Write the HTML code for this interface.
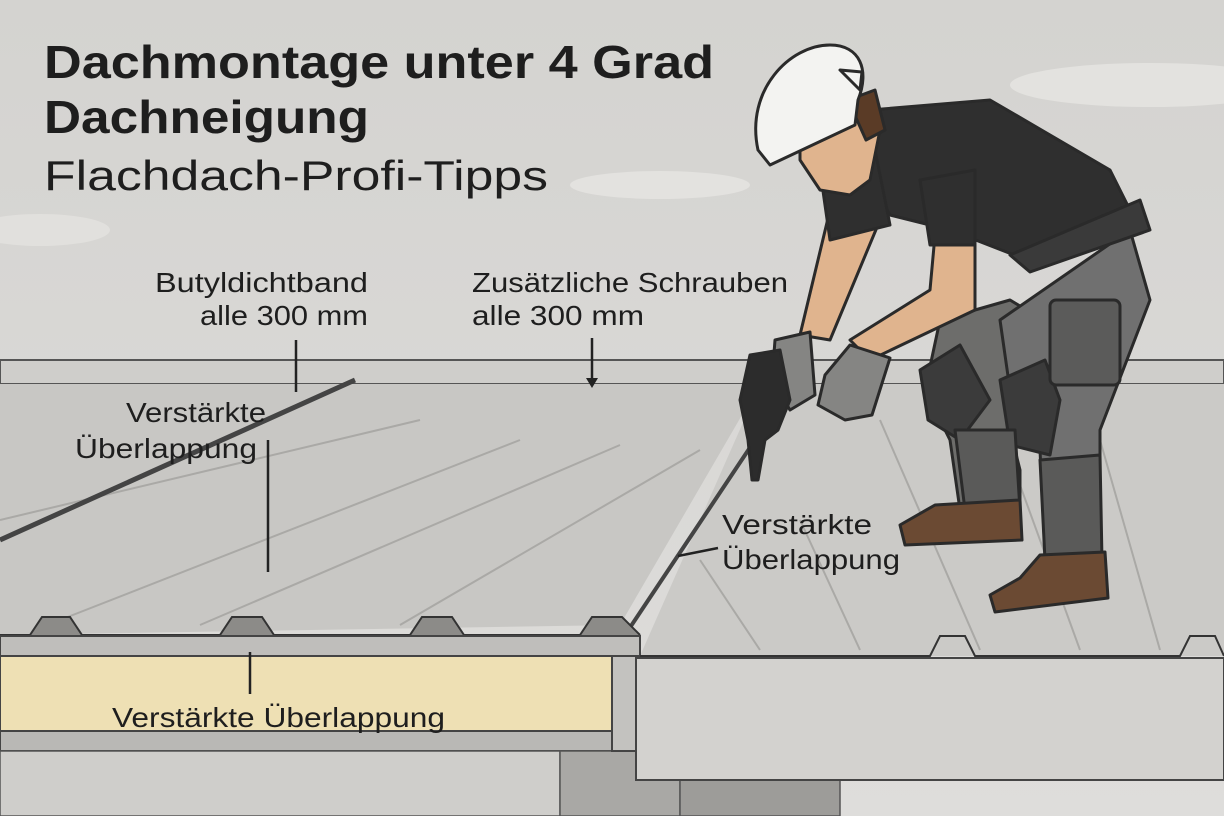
<!DOCTYPE html>
<html><head><meta charset="utf-8"><style>
html,body{margin:0;padding:0;width:1224px;height:816px;overflow:hidden;background:#d9d8d5}
svg{display:block}
text{font-family:"Liberation Sans",sans-serif;fill:#1e1e1e}
</style></head><body>
<svg width="1224" height="816" viewBox="0 0 1224 816" xmlns="http://www.w3.org/2000/svg">
<defs>
<linearGradient id="sky" x1="0" y1="0" x2="0" y2="1"><stop offset="0" stop-color="#d4d3d0"/><stop offset="1" stop-color="#dedddb"/></linearGradient>
</defs>
<rect width="1224" height="816" fill="url(#sky)"/>
<ellipse cx="1150" cy="85" rx="140" ry="22" fill="#e3e2df"/>
<ellipse cx="660" cy="185" rx="90" ry="14" fill="#e3e2df"/>
<ellipse cx="40" cy="230" rx="70" ry="16" fill="#e1e0dd"/>
<rect x="0" y="360" width="1224" height="24" fill="#cfcecb" stroke="#555" stroke-width="2"/>
<polygon points="0,384 760,384 620,625 0,635" fill="#c8c7c4"/>
<polygon points="760,384 1224,384 1224,656 640,656" fill="#cbcac7"/>
<g stroke="#aaa9a6" stroke-width="2">
<line x1="0" y1="520" x2="420" y2="420"/><line x1="60" y1="620" x2="520" y2="440"/>
<line x1="200" y1="625" x2="620" y2="445"/><line x1="400" y1="625" x2="700" y2="450"/>
<line x1="880" y1="420" x2="980" y2="650"/><line x1="1000" y1="430" x2="1080" y2="650"/>
<line x1="1100" y1="440" x2="1160" y2="650"/><line x1="700" y1="560" x2="760" y2="650"/>
<line x1="800" y1="520" x2="860" y2="650"/>
</g>
<line x1="0" y1="540" x2="355" y2="380" stroke="#444" stroke-width="5"/>
<line x1="625" y1="635" x2="755" y2="440" stroke="#444" stroke-width="4"/>
<path d="M0,635 L30,635 L42,617 L70,617 L82,635 L220,635 L232,617 L262,617 L274,635 L410,635 L422,617 L452,617 L464,635 L580,635 L592,617 L622,617 L640,635" fill="#8c8b88" stroke="#333" stroke-width="2"/>
<rect x="0" y="636" width="640" height="20" fill="#bfbebb" stroke="#444" stroke-width="2"/>
<path d="M640,656 L930,656 L940,636 L965,636 L975,656 L1180,656 L1190,636 L1215,636 L1224,656" fill="none" stroke="#333" stroke-width="2"/>
<line x1="640" y1="658" x2="1224" y2="658" stroke="#333" stroke-width="2"/>
<rect x="0" y="656" width="612" height="75" fill="#eee0b4" stroke="#444" stroke-width="2"/>
<rect x="0" y="731" width="640" height="20" fill="#b9b8b5" stroke="#444" stroke-width="2"/>
<rect x="0" y="751" width="560" height="65" fill="#cfcecb" stroke="#555" stroke-width="1.5"/>
<rect x="560" y="751" width="120" height="65" fill="#a9a8a5" stroke="#555" stroke-width="1.5"/>
<rect x="680" y="780" width="160" height="36" fill="#9d9c99" stroke="#555" stroke-width="1.5"/>
<rect x="636" y="658" width="588" height="122" fill="#d3d2cf" stroke="#444" stroke-width="2"/>
<rect x="612" y="656" width="24" height="95" fill="#c3c2bf" stroke="#444" stroke-width="2"/>
<g stroke="#222" stroke-width="2.5">
<line x1="296" y1="340" x2="296" y2="392"/>
<line x1="268" y1="440" x2="268" y2="572"/>
<line x1="592" y1="338" x2="592" y2="380"/>
<line x1="250" y1="652" x2="250" y2="694"/>
<line x1="678" y1="556" x2="718" y2="548"/>
</g>
<polygon points="586,378 598,378 592,388" fill="#222"/>
<g stroke="#2a2a2a" stroke-width="3" stroke-linejoin="round">
<path d="M940,320 L1010,300 L1060,330 L1010,430 L1020,470 L1020,510 L960,510 L950,440 L925,390 Z" fill="#6d6d6b"/>
<path d="M1000,320 L1130,230 L1150,300 L1100,430 L1100,555 L1045,555 L1040,450 L1010,390 Z" fill="#707070"/>
<path d="M920,370 L960,345 L990,400 L960,440 L928,420 Z" fill="#3b3b3b"/>
<path d="M1000,380 L1045,360 L1060,400 L1050,455 L1010,445 Z" fill="#3b3b3b"/>
<rect x="1050" y="300" width="70" height="85" rx="6" fill="#5b5b5a"/>
<path d="M1040,460 L1100,455 L1102,560 L1045,560 Z" fill="#5a5a59"/>
<path d="M955,430 L1015,430 L1020,510 L965,510 Z" fill="#5a5a59"/>
<path d="M935,505 L1020,500 L1022,540 L905,545 L900,525 Z" fill="#6b4a33"/>
<path d="M1040,555 L1105,552 L1108,598 L995,612 L990,595 L1020,578 Z" fill="#6b4a33"/>
<path d="M870,110 L990,100 L1110,170 L1140,230 L1040,265 L950,230 L890,215 L870,180 Z" fill="#2f2f2f"/>
<path d="M1010,255 L1140,200 L1150,230 L1030,272 Z" fill="#3a3a3a"/>
<path d="M830,210 L880,220 L830,340 L800,335 Z" fill="#e0b48e"/>
<path d="M935,235 L975,230 L975,310 L870,360 L850,340 L930,290 Z" fill="#e0b48e"/>
<path d="M820,170 L875,150 L890,225 L830,240 Z" fill="#2f2f2f"/>
<path d="M920,180 L975,170 L975,245 L930,245 Z" fill="#2f2f2f"/>
<path d="M775,340 L810,332 L815,395 L790,410 L772,380 Z" fill="#858583"/>
<path d="M850,345 L890,358 L872,415 L845,420 L818,405 L825,375 Z" fill="#858583"/>
<path d="M750,355 L780,350 L790,400 L778,430 L765,440 L758,480 L752,480 L748,440 L740,400 Z" fill="#2c2c2c"/>
<path d="M800,110 L860,95 L880,130 L870,180 L850,195 L820,190 L800,160 Z" fill="#e0b48e"/>
<path d="M848,100 L875,90 L885,130 L866,140 Z" fill="#5a3b26"/>
<path d="M758,150 C745,90 790,45 830,45 C860,45 870,70 858,100 L855,125 L770,165 Z" fill="#f3f3f1"/>
<path d="M840,70 L862,72 L860,90 Z" fill="#f3f3f1"/>
</g>
<text x="44" y="78" font-size="46" font-weight="bold" textLength="670" lengthAdjust="spacingAndGlyphs">Dachmontage unter 4 Grad</text>
<text x="44" y="133" font-size="46" font-weight="bold" textLength="325" lengthAdjust="spacingAndGlyphs">Dachneigung</text>
<text x="44" y="190" font-size="42" textLength="504" lengthAdjust="spacingAndGlyphs">Flachdach-Profi-Tipps</text>
<g font-size="28">
<text x="155" y="292" textLength="213" lengthAdjust="spacingAndGlyphs">Butyldichtband</text>
<text x="200" y="325" textLength="168" lengthAdjust="spacingAndGlyphs">alle 300 mm</text>
<text x="472" y="292" textLength="316" lengthAdjust="spacingAndGlyphs">Zusätzliche Schrauben</text>
<text x="472" y="325" textLength="172" lengthAdjust="spacingAndGlyphs">alle 300 mm</text>
<text x="126" y="422" textLength="140" lengthAdjust="spacingAndGlyphs">Verstärkte</text>
<text x="75" y="458" textLength="182" lengthAdjust="spacingAndGlyphs">Überlappung</text>
<text x="722" y="534" textLength="150" lengthAdjust="spacingAndGlyphs">Verstärkte</text>
<text x="722" y="569" textLength="178" lengthAdjust="spacingAndGlyphs">Überlappung</text>
<text x="112" y="727" textLength="333" lengthAdjust="spacingAndGlyphs">Verstärkte Überlappung</text>
</g>
</svg>
</body></html>
